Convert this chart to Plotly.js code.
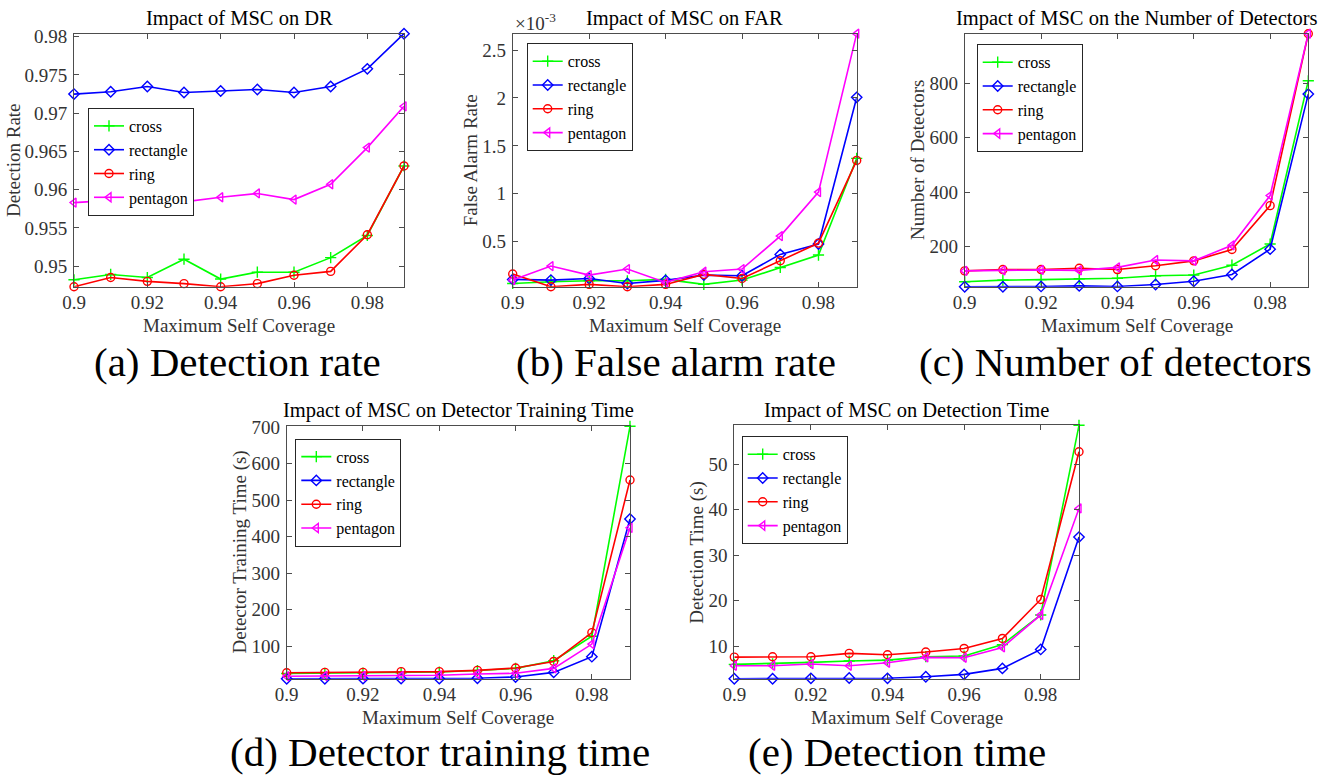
<!DOCTYPE html>
<html>
<head>
<meta charset="utf-8">
<script src="https://cdn.plot.ly/plotly-3.0.1.min.js"></script>
<style>html,body{margin:0;padding:0;background:#fff;}#chart{width:1344px;height:777px;}</style>
</head>
<body>
<div id="chart"></div>
<script>
// ---------------- data ----------------
const msc = [0.90, 0.91, 0.92, 0.93, 0.94, 0.95, 0.96, 0.97, 0.98, 0.99];
const seriesNames = ['cross', 'rectangle', 'ring', 'pentagon'];

// (a) Detection rate
const drCross = [0.9482, 0.9489, 0.9485, 0.9509, 0.9483, 0.9492, 0.9492, 0.9511, 0.9540, 0.9631];
const drRect  = [0.9725, 0.9728, 0.9735, 0.9727, 0.9729, 0.9731, 0.9727, 0.9735, 0.9758, 0.9804];
const drRing  = [0.9473, 0.9485, 0.9480, 0.9477, 0.9473, 0.9477, 0.9488, 0.9493, 0.9541, 0.9631];
const drPent  = [0.9583, 0.9586, 0.9585, 0.9584, 0.9590, 0.9595, 0.9587, 0.9607, 0.9655, 0.9709];

// (b) False alarm rate, in units of 1e-3
const farCross = [0.065, 0.083, 0.093, 0.093, 0.107, 0.055, 0.100, 0.232, 0.361, 1.37];
const farRect  = [0.107, 0.100, 0.117, 0.065, 0.097, 0.152, 0.145, 0.368, 0.476, 2.006];
const farRing  = [0.163, 0.031, 0.055, 0.031, 0.055, 0.159, 0.117, 0.302, 0.486, 1.348];
const farPent  = [0.100, 0.246, 0.152, 0.215, 0.076, 0.187, 0.215, 0.559, 1.018, 2.67];

// (c) Number of detectors
const ndCross = [70, 76, 78, 81, 83, 92, 95, 131, 209, 809];
const ndRect  = [52, 52, 53, 55, 53, 60, 72, 97, 190, 760];
const ndRing  = [110, 115, 115, 120, 115, 129, 147, 189, 350, 982];
const ndPent  = [110, 112, 114, 112, 123, 150, 147, 204, 387, 982];

// (d) Detector training time (s)
const ttCross = [25, 25.5, 26, 27, 29, 33, 39, 60, 127, 702];
const ttRect  = [10.7, 10.7, 10.8, 10.9, 10.8, 12, 15.5, 28, 71, 448];
const ttRing  = [27, 28, 28, 30, 30, 33.6, 40, 58, 137, 555];
const ttPent  = [17.3, 18.2, 18.2, 18.2, 20, 23.6, 25.5, 39, 105.5, 424];

// (e) Detection time (s)
const dtCross = [6.06, 6.2, 6.5, 6.8, 7.0, 7.74, 7.9, 10.4, 16.9, 58.5];
const dtRect  = [2.92, 2.92, 3.0, 3.06, 3.0, 3.36, 3.87, 5.18, 9.34, 33.98];
const dtRing  = [7.66, 7.74, 7.74, 8.47, 8.18, 8.76, 9.56, 11.75, 20.3, 52.7];
const dtPent  = [5.77, 5.77, 6.13, 5.77, 6.42, 7.6, 7.52, 9.78, 16.9, 40.27];

// tick labels
const xTickVals = [0.90, 0.92, 0.94, 0.96, 0.98];
const xTickText = ['0.9', '0.92', '0.94', '0.96', '0.98'];
const drTickVals = [0.95, 0.955, 0.96, 0.965, 0.97, 0.975, 0.98];
const drTickText = ['0.95', '0.955', '0.96', '0.965', '0.97', '0.975', '0.98'];
const farTickVals = [0.5, 1, 1.5, 2, 2.5];
const farTickText = ['0.5', '1', '1.5', '2', '2.5'];
const ndTickVals = [200, 400, 600, 800];
const ndTickText = ['200', '400', '600', '800'];
const ttTickVals = [100, 200, 300, 400, 500, 600, 700];
const ttTickText = ['100', '200', '300', '400', '500', '600', '700'];
const dtTickVals = [10, 20, 30, 40, 50];
const dtTickText = ['10', '20', '30', '40', '50'];

const panelTitles = ['Impact of MSC on DR', 'Impact of MSC on FAR', 'Impact of MSC on the Number of Detectors',
                     'Impact of MSC on Detector Training Time', 'Impact of MSC on Detection Time'];
const yLabels = ['Detection Rate', 'False Alarm Rate', 'Number of Detectors', 'Detector Training Time (s)', 'Detection Time (s)'];
const xLabel = 'Maximum Self Coverage';
const captions = ['(a) Detection rate', '(b) False alarm rate', '(c) Number of detectors',
                  '(d) Detector training time', '(e) Detection time'];

// ---------------- styling / layout ----------------
const W = 1344, H = 777;
const FONT = 'Liberation Serif';
const colors = ['#00ff00', '#0000ff', '#ff0000', '#ff00ff'];
const symbols = ['cross-thin-open', 'diamond-open', 'circle-open', 'triangle-left-open'];
const msizes = [8, 8, 8, 8];

const panels = [
  {data: [drCross, drRect, drRing, drPent], tv: drTickVals, tt: drTickText, box: [74, 404, 33.7, 286.7], leg: [88, 108], ylx: 12.7},
  {data: [farCross, farRect, farRing, farPent], tv: farTickVals, tt: farTickText, box: [512.7, 856.7, 33.7, 286.7], leg: [526.7, 43.3], ylx: 470},
  {data: [ndCross, ndRect, ndRing, ndPent], tv: ndTickVals, tt: ndTickText, box: [964.7, 1308.3, 33.7, 286.7], leg: [976.7, 44.3], ylx: 916.7},
  {data: [ttCross, ttRect, ttRing, ttPent], tv: ttTickVals, tt: ttTickText, box: [286.7, 630, 426.3, 678.7], leg: [295.3, 438.7], ylx: 239},
  {data: [dtCross, dtRect, dtRing, dtPent], tv: dtTickVals, tt: dtTickText, box: [734.3, 1079, 425.3, 678.7], leg: [741.7, 436.3], ylx: 696.7}
];
const titleY = [18.3, 18.3, 18.3, 410, 410];
const xLabelY = [325, 325, 325, 717, 717];
const captionPos = [[237, 362], [675.5, 362], [1115, 362], [440.5, null], [896.5, null]];

const px2x = p => p / W;
const px2y = p => 1 - p / H;

const traces = [];
const layout = {
  width: W, height: H,
  margin: {l: 0, r: 0, t: 0, b: 0, pad: 0},
  paper_bgcolor: '#ffffff', plot_bgcolor: '#ffffff',
  font: {family: FONT, color: '#262626'},
  showlegend: true,
  annotations: []
};

const axisCommon = {
  showline: true, linecolor: '#4d4d4d', linewidth: 1, mirror: 'allticks',
  ticks: 'inside', ticklen: 5, tickwidth: 1, tickcolor: '#4d4d4d',
  showgrid: false, zeroline: false, fixedrange: true,
  tickfont: {family: FONT, size: 19, color: '#333333'}, tickmode: 'array'
};

panels.forEach((p, i) => {
  const k = i + 1;
  const xa = 'xaxis' + (k === 1 ? '' : k), ya = 'yaxis' + (k === 1 ? '' : k);
  const xr = 'x' + (k === 1 ? '' : k), yr = 'y' + (k === 1 ? '' : k);
  const lg = 'legend' + (k === 1 ? '' : k);
  const all = [].concat(...p.data);
  const ymin = Math.min(...all), ymax = Math.max(...all);
  layout[xa] = Object.assign({}, axisCommon, {
    domain: [px2x(p.box[0]), px2x(p.box[1])], anchor: yr,
    range: [msc[0], msc[msc.length - 1]], tickvals: xTickVals, ticktext: xTickText,
    ticklabelstandoff: -2
  });
  layout[ya] = Object.assign({}, axisCommon, {
    domain: [px2y(p.box[3]), px2y(p.box[2])], anchor: xr,
    range: [ymin, ymax], tickvals: p.tv, ticktext: p.tt,
    ticklabelstandoff: 2
  });
  layout[lg] = {
    x: px2x(p.leg[0]), y: px2y(p.leg[1]), xanchor: 'left', yanchor: 'top',
    bgcolor: '#ffffff', bordercolor: '#262626', borderwidth: 1,
    font: {family: FONT, size: 16, color: '#000000'}, traceorder: 'normal',
    itemwidth: 30, tracegroupgap: 0
  };
  p.data.forEach((ys, s) => {
    traces.push({
      type: 'scatter', mode: 'lines+markers', x: msc, y: ys, name: seriesNames[s],
      xaxis: xr, yaxis: yr, legend: lg, cliponaxis: false,
      line: {color: colors[s], width: 1.6},
      marker: {symbol: symbols[s], size: msizes[s], color: colors[s], line: {color: colors[s], width: 1.4}}
    });
  });
  const cx = px2x((p.box[0] + p.box[1]) / 2);
  const cyPx = (p.box[2] + p.box[3]) / 2;
  const cap = captionPos[i];
  layout.annotations.push(
    {text: panelTitles[i], xref: 'paper', yref: 'paper', x: cx, y: px2y(titleY[i]), xanchor: 'center', yanchor: 'middle',
     showarrow: false, font: {family: FONT, size: 20.5, color: '#000000'}},
    {text: xLabel, xref: 'paper', yref: 'paper', x: cx, y: px2y(xLabelY[i]), xanchor: 'center', yanchor: 'middle',
     showarrow: false, font: {family: FONT, size: 19, color: '#333333'}},
    {text: yLabels[i], xref: 'paper', yref: 'paper', x: px2x(p.ylx), y: px2y(cyPx), xanchor: 'center', yanchor: 'middle',
     textangle: -90, showarrow: false, font: {family: FONT, size: 19, color: '#333333'}},
    {text: captions[i], xref: 'paper', yref: 'paper', x: px2x(cap[0]),
     y: cap[1] === null ? 0 : px2y(cap[1]), xanchor: 'center', yanchor: cap[1] === null ? 'bottom' : 'middle',
     showarrow: false, font: {family: FONT, size: 41, color: '#000000'}}
  );
});
// exponent label for FAR axis
layout.annotations.push({text: '×10<sup>-3</sup>', xref: 'paper', yref: 'paper', x: px2x(513), y: px2y(22), xanchor: 'left', yanchor: 'middle',
  showarrow: false, font: {family: FONT, size: 19, color: '#333333'}});

Plotly.newPlot('chart', traces, layout, {displayModeBar: false, staticPlot: true});
</script>
</body>
</html>
